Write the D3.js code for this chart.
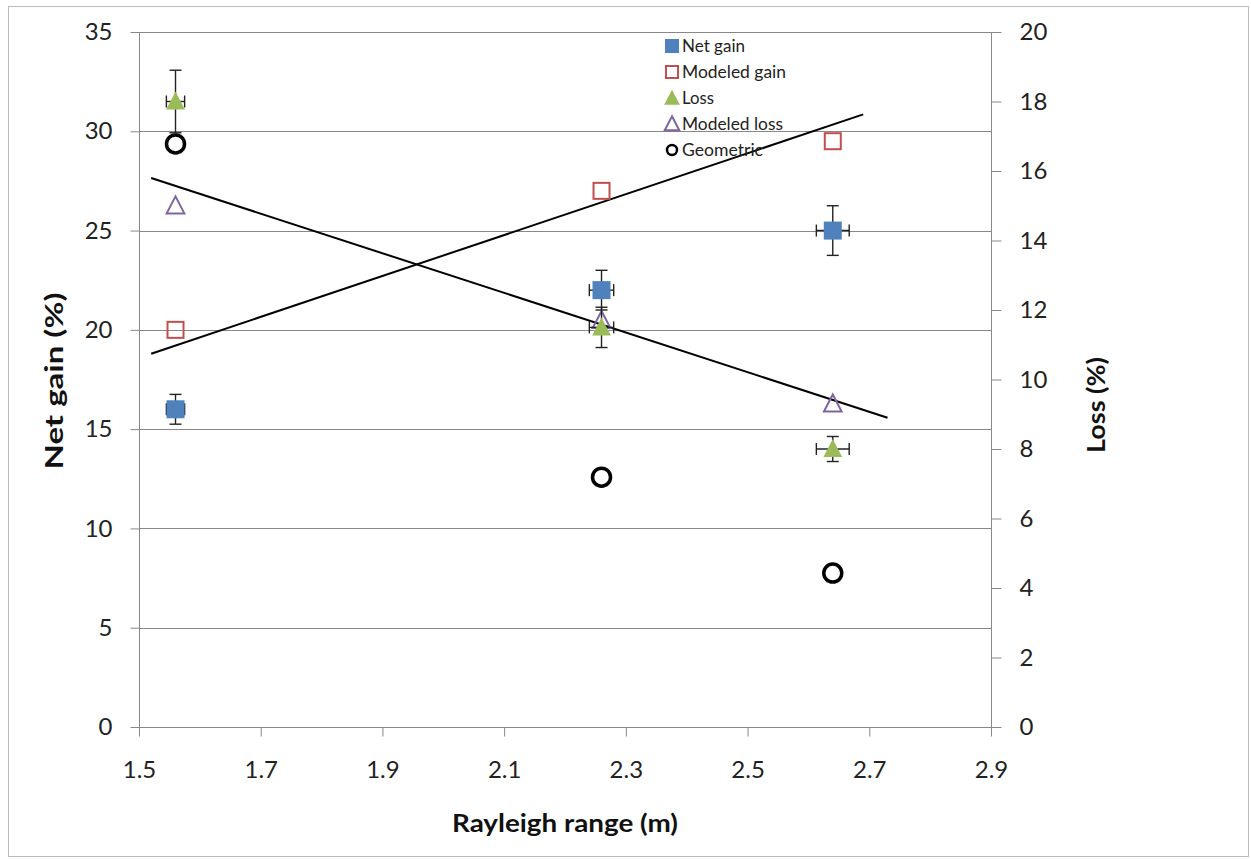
<!DOCTYPE html>
<html><head><meta charset="utf-8">
<script src="https://cdn.jsdelivr.net/npm/d3@7"></script>
<style>body{margin:0;background:#fff}</style>
</head><body>
<svg id="c" width="1251" height="859"></svg>
<script>
const rayleigh = [1.56, 2.26, 2.64];
const netGain = [16, 22, 25];
const netGainErrY = [0.75, 1.0, 1.25];
const netGainErrX = [0.015, 0.02, 0.027];
const modeledGain = [20, 27, 29.5];
const loss = [18, 11.5, 8.0];
const lossErrY = [0.9, 0.58, 0.36];
const lossErrX = [0.015, 0.02, 0.027];
const modeledLoss = [15.0, 11.7, 9.3];
const geometric = [16.78, 7.19, 4.43];
const gainTrend = [[1.52, 18.8], [2.69, 30.85]];
const lossTrend = [[1.52, 15.8], [2.73, 8.9]];
const xTicks = [1.5, 1.7, 1.9, 2.1, 2.3, 2.5, 2.7, 2.9];
const yLeftTicks = [0, 5, 10, 15, 20, 25, 30, 35];
const yRightTicks = [0, 2, 4, 6, 8, 10, 12, 14, 16, 18, 20];
const legendLabels = ["Net gain", "Modeled gain", "Loss", "Modeled loss", "Geometric"];

const svg = d3.select("#c");
const font = "Lato, 'Open Sans', 'Liberation Sans', sans-serif";
const L = 139, R = 991, T = 32, B = 727;
const x = d3.scaleLinear().domain([1.5, 2.9]).range([L, R]);
const yL = d3.scaleLinear().domain([0, 35]).range([B, T]);
const yR = d3.scaleLinear().domain([0, 20]).range([B, T]);

svg.append("rect").attr("x", 8.5).attr("y", 6.5).attr("width", 1240).attr("height", 850)
  .attr("fill", "none").attr("stroke", "#bbb");

// gridlines
svg.append("g").selectAll("line").data(yLeftTicks.filter(d => d > 0)).join("line")
  .attr("x1", L).attr("x2", R).attr("y1", d => Math.round(yL(d)) + 0.5).attr("y2", d => Math.round(yL(d)) + 0.5)
  .attr("stroke", "#888").attr("stroke-width", 1);

function styleAxis(g) {
  g.selectAll(".domain").attr("stroke", "#888");
  g.selectAll(".tick line").attr("stroke", "#888");
  g.selectAll("text").attr("font-family", font).attr("font-size", 24).attr("fill", "#222");
}
const gx = svg.append("g").attr("transform", `translate(0,${B + 0.5})`)
  .call(d3.axisBottom(x).tickValues(xTicks).tickSize(9).tickSizeOuter(0).tickPadding(24).tickFormat(d3.format(".1f")));
styleAxis(gx);
gx.select(".domain").attr("d", `M${L - 8},0H${R + 9}`);
const gl = svg.append("g").attr("transform", `translate(${L + 0.5},0)`)
  .call(d3.axisLeft(yL).tickValues(yLeftTicks).tickSize(9).tickSizeOuter(0).tickPadding(18).tickFormat(d3.format("d")));
styleAxis(gl);
gl.select(".domain").attr("d", `M0,${T}V${B + 9}`);
const gr = svg.append("g").attr("transform", `translate(${R + 0.5},0)`)
  .call(d3.axisRight(yR).tickValues(yRightTicks).tickSize(10).tickSizeOuter(0).tickPadding(18).tickFormat(d3.format("d")));
styleAxis(gr);
gr.select(".domain").attr("d", `M0,${T}V${B + 9}`);

// axis titles
svg.append("text").attr("x", 565).attr("y", 832).attr("text-anchor", "middle")
  .attr("font-family", font).attr("font-size", 25).attr("font-weight", "bold").attr("fill", "#111")
  .attr("textLength", 226).attr("lengthAdjust", "spacingAndGlyphs")
  .text("Rayleigh range (m)");
svg.append("text").attr("transform", "translate(63,381) rotate(-90)").attr("text-anchor", "middle")
  .attr("font-family", font).attr("font-size", 25).attr("font-weight", "bold").attr("fill", "#111")
  .attr("textLength", 177).attr("lengthAdjust", "spacingAndGlyphs")
  .text("Net gain (%)");
svg.append("text").attr("transform", "translate(1105,405) rotate(-90)").attr("text-anchor", "middle")
  .attr("font-family", font).attr("font-size", 25).attr("font-weight", "bold").attr("fill", "#111")
  .attr("textLength", 96).attr("lengthAdjust", "spacingAndGlyphs")
  .text("Loss (%)");

// trend lines
const lineL = d3.line().x(d => x(d[0])).y(d => yL(d[1]));
const lineR = d3.line().x(d => x(d[0])).y(d => yR(d[1]));
svg.append("path").attr("d", lineL(gainTrend)).attr("stroke", "#000").attr("stroke-width", 2).attr("fill", "none");
svg.append("path").attr("d", lineR(lossTrend)).attr("stroke", "#000").attr("stroke-width", 2).attr("fill", "none");

// error bars
function errBars(xs, ys, ex, ey, yS) {
  const g = svg.append("g").attr("stroke", "#222").attr("stroke-width", 1.4);
  xs.forEach((xv, i) => {
    const cx = x(xv), cy = yS(ys[i]);
    const y1 = yS(ys[i] + ey[i]), y2 = yS(ys[i] - ey[i]);
    const x1 = x(xv - ex[i]), x2 = x(xv + ex[i]);
    g.append("line").attr("x1", cx).attr("x2", cx).attr("y1", y1).attr("y2", y2);
    g.append("line").attr("x1", cx - 6).attr("x2", cx + 6).attr("y1", y1).attr("y2", y1);
    g.append("line").attr("x1", cx - 6).attr("x2", cx + 6).attr("y1", y2).attr("y2", y2);
    g.append("line").attr("x1", x1).attr("x2", x2).attr("y1", cy).attr("y2", cy);
    g.append("line").attr("x1", x1).attr("x2", x1).attr("y1", cy - 6).attr("y2", cy + 6);
    g.append("line").attr("x1", x2).attr("x2", x2).attr("y1", cy - 6).attr("y2", cy + 6);
  });
}

const tri = (s) => `M0,${-s * 0.55}L${s * 0.52},${s * 0.45}L${-s * 0.52},${s * 0.45}Z`;

// Modeled gain (hollow squares)
svg.append("g").selectAll("rect").data(rayleigh).join("rect")
  .attr("x", d => x(d) - 8).attr("y", (d, i) => yL(modeledGain[i]) - 8).attr("width", 16).attr("height", 16)
  .attr("fill", "none").attr("stroke", "#C0504D").attr("stroke-width", 2);
// Modeled loss (hollow triangles)
svg.append("g").selectAll("path").data(rayleigh).join("path")
  .attr("transform", (d, i) => `translate(${x(d)},${yR(modeledLoss[i])})`)
  .attr("d", tri(17)).attr("fill", "none").attr("stroke", "#8064A2").attr("stroke-width", 2);

errBars(rayleigh, netGain, netGainErrX, netGainErrY, yL);
// Net gain squares
svg.append("g").selectAll("rect").data(rayleigh).join("rect")
  .attr("x", d => x(d) - 9).attr("y", (d, i) => yL(netGain[i]) - 9).attr("width", 18).attr("height", 18)
  .attr("fill", "#4F81BD");

errBars(rayleigh, loss, lossErrX, lossErrY, yR);
svg.append("g").selectAll("path").data(rayleigh).join("path")
  .attr("transform", (d, i) => `translate(${x(d)},${yR(loss[i])})`)
  .attr("d", tri(18)).attr("fill", "#9BBB59");

// Geometric circles
svg.append("g").selectAll("circle").data(rayleigh).join("circle")
  .attr("cx", d => x(d)).attr("cy", (d, i) => yR(geometric[i])).attr("r", 9)
  .attr("fill", "none").attr("stroke", "#000").attr("stroke-width", 3.5);

// legend
const legendWidths = [63, 104, 32, 101, 81];
const lg = svg.append("g").attr("transform", "translate(672,46)");
legendLabels.forEach((lab, i) => {
  const g = lg.append("g").attr("transform", `translate(0,${i * 26})`);
  if (i === 0) g.append("rect").attr("x", -7).attr("y", -7).attr("width", 14).attr("height", 14).attr("fill", "#4F81BD");
  if (i === 1) g.append("rect").attr("x", -6).attr("y", -6).attr("width", 12).attr("height", 12).attr("fill", "none").attr("stroke", "#C0504D").attr("stroke-width", 2);
  if (i === 2) g.append("path").attr("d", tri(15)).attr("fill", "#9BBB59");
  if (i === 3) g.append("path").attr("d", tri(14)).attr("fill", "none").attr("stroke", "#8064A2").attr("stroke-width", 2);
  if (i === 4) g.append("circle").attr("r", 5).attr("fill", "none").attr("stroke", "#000").attr("stroke-width", 2.5);
  g.append("text").attr("x", 10).attr("y", 6).attr("font-family", font).attr("font-size", 18).attr("fill", "#222")
    .attr("textLength", legendWidths[i]).attr("lengthAdjust", "spacingAndGlyphs").text(lab);
});
</script>
</body></html>
